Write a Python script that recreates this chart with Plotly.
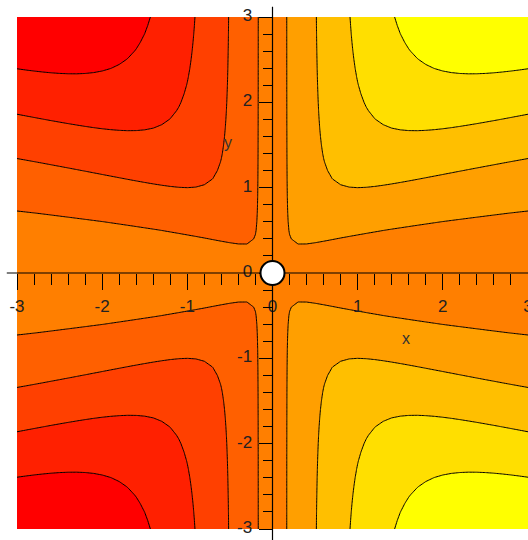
import numpy as np
import plotly.graph_objects as go

# ---- data -------------------------------------------------------------
# Surface drawn by the reference: z = x*y^2 / (x^2 + y^2), undefined at the origin
# (the hole is marked by the white circle). Contour levels.
x_values = np.round(np.arange(-3.0, 3.0 + 1e-9, 0.1), 6)
y_values = np.round(np.arange(-3.0, 3.0 + 1e-9, 0.1), 6)
contour_start = -7 / 6
contour_end = 7 / 6
contour_step = 1 / 3
band_low_color = "#FF0000"
band_high_color = "#FFFF00"

x_tick_values = [-3, -2, -1, 0, 1, 2, 3]
x_tick_labels = ["-3", "-2", "-1", "0", "1", "2", "3"]
y_tick_values = [-3, -2, -1, 0, 1, 2, 3]
y_tick_labels = ["-3", "-2", "-1", "0", "1", "2", "3"]
x_title = "x"
y_title = "y"
x_title_pos = (1.57, -0.77)
y_title_pos = (-0.52, 1.53)

# ---- surface grid -----------------------------------------------------
X, Y = np.meshgrid(x_values, y_values)
with np.errstate(invalid="ignore", divide="ignore"):
    Z = X * Y ** 2 / (X ** 2 + Y ** 2)
Z = np.where(np.isfinite(Z), Z, 0.0)

font_family = "Liberation Sans, Arial, sans-serif"
text_color = "#222222"

fig = go.Figure()
fig.add_trace(
    go.Contour(
        x=x_values,
        y=y_values,
        z=Z,
        autocontour=False,
        contours=dict(start=contour_start, end=contour_end, size=contour_step,
                      coloring="fill", showlines=True),
        colorscale=[[0, band_low_color], [1, band_high_color]],
        line=dict(color="black", width=1, smoothing=0),
        showscale=False,
        hoverinfo="skip",
    )
)

axis_common = dict(
    range=[-3, 3],
    showgrid=False,
    zeroline=False,
    showline=False,
    ticks="outside",
    tickcolor="black",
    tickwidth=1,
    tickfont=dict(family=font_family, size=17, color=text_color),
    anchor="free",
    position=0.5,
    automargin=False,
    fixedrange=True,
    ticklabeloverflow="allow",
)

fig.update_layout(
    template="none",
    width=528,
    height=540,
    margin=dict(l=17, r=0, t=17, b=11, pad=0),
    paper_bgcolor="white",
    plot_bgcolor="white",
    showlegend=False,
    xaxis=dict(
        **axis_common,
        tickvals=x_tick_values,
        ticktext=x_tick_labels,
        ticklen=16,
        ticklabelstandoff=2,
        minor=dict(dtick=0.2, tick0=0, ticks="outside", ticklen=11,
                   tickcolor="black", tickwidth=1, showgrid=False),
    ),
    yaxis=dict(
        **axis_common,
        tickvals=y_tick_values,
        ticktext=y_tick_labels,
        ticklen=14,
        ticklabelstandoff=3,
        ticklabelshift=-2,
        minor=dict(dtick=0.2, tick0=0, ticks="outside", ticklen=10,
                   tickcolor="black", tickwidth=1, showgrid=False),
    ),
)

# axis lines through the origin (extend slightly past the plot area like the reference)
fig.add_shape(type="line", xref="paper", yref="y", x0=-0.02, x1=1.0, y0=0, y1=0,
              line=dict(color="black", width=1.2), layer="above")
fig.add_shape(type="line", xref="x", yref="paper", x0=0, x1=0, y0=-0.03, y1=1.02,
              line=dict(color="black", width=1.2), layer="above")
# hole at the origin
fig.add_shape(type="circle", xref="x", yref="y", xsizemode="pixel", ysizemode="pixel",
              xanchor=0, yanchor=0, x0=-12, x1=12, y0=-12, y1=12,
              fillcolor="white", line=dict(color="black", width=2), layer="above")

fig.add_annotation(x=x_title_pos[0], y=x_title_pos[1], text=x_title, showarrow=False,
                   font=dict(family=font_family, size=16, color="#333333"))
fig.add_annotation(x=y_title_pos[0], y=y_title_pos[1], text=y_title, showarrow=False,
                   font=dict(family=font_family, size=16, color="#333333"))

fig.write_html("out.html")
